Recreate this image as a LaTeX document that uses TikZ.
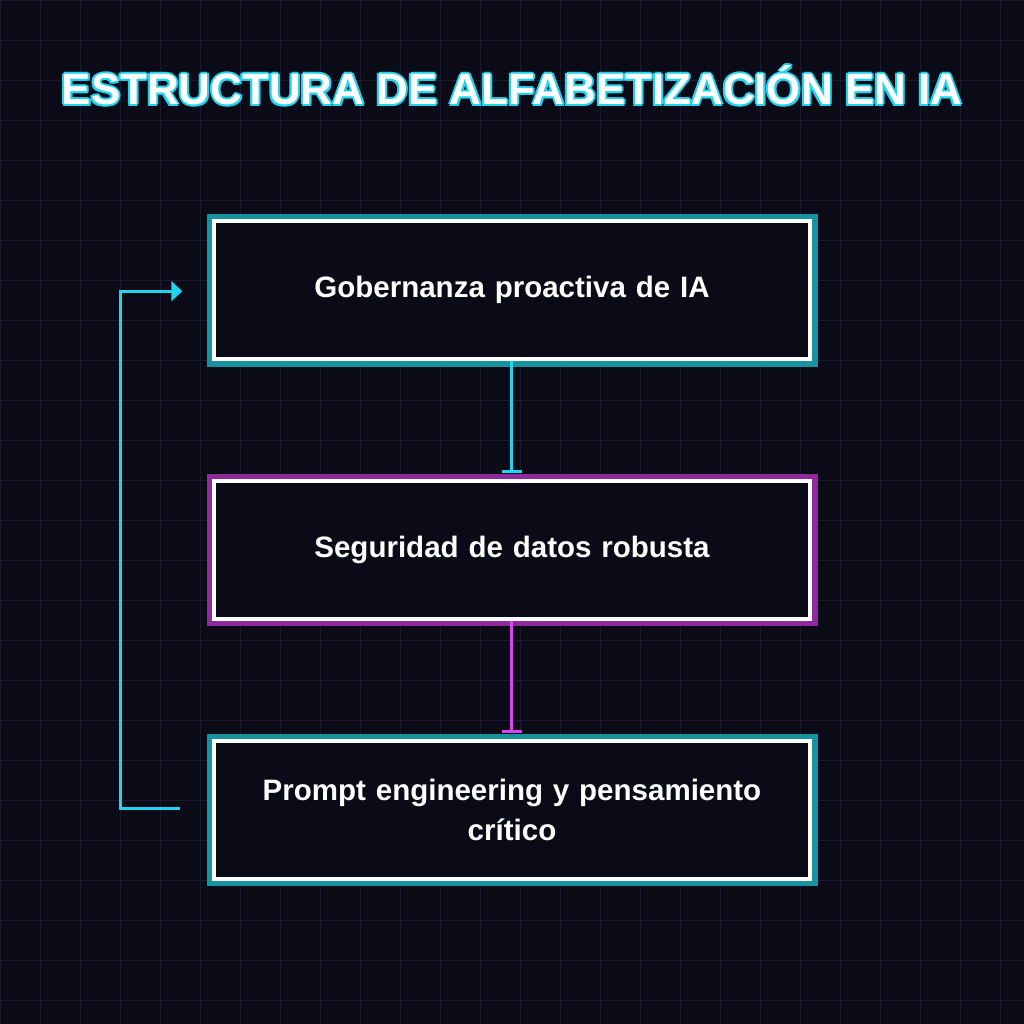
\documentclass[tikz,border=0pt]{standalone}
\usepackage{fontspec}
\setmainfont{Liberation Sans}
\usetikzlibrary{positioning,arrows.meta,calc}
\definecolor{bg}{HTML}{0B0B18}
\definecolor{gridc}{HTML}{1A1A2E}
\definecolor{neoncyan}{HTML}{22D3EE}
\definecolor{tealglow}{HTML}{16939F}
\definecolor{neonpink}{HTML}{D946EF}
\definecolor{pinkglow}{HTML}{8E2A9C}
\tikzset{
  stage/.style={draw=white,line width=0.04cm,minimum width=5.97cm,minimum height=1.38cm,
    text width=5.7cm,align=center,font=\bfseries\fontsize{8.4pt}{11.5pt}\selectfont,text=white,fill=bg},
  glowc/.style={draw=tealglow,line width=0.06cm},
  glowp/.style={draw=pinkglow,line width=0.06cm},
  flow/.style={line width=0.03cm,-{Bar[width=0.2cm,line width=0.03cm]}},
}
\begin{document}
\begin{tikzpicture}[x=0.01cm,y=-0.01cm]
\fill[bg] (0,0) rectangle (1024,1024);
\draw[gridc,line width=0.008cm] (0,0) grid[step=0.4cm] (1024,1024);
% title
\foreach \dx/\dy in {-2/0,2/0,0/-2,0/2,-1.5/-1.5,1.5/1.5,-1.5/1.5,1.5/-1.5}
  \node[text=neoncyan,font=\bfseries\fontsize{12.5pt}{16pt}\selectfont] at (512+\dx,85+\dy) {ESTRUCTURA DE ALFABETIZACIÓN EN IA};
\node (title) [text=white,font=\bfseries\fontsize{12.5pt}{16pt}\selectfont] at (512,85) {ESTRUCTURA DE ALFABETIZACIÓN EN IA};
% boxes
\draw[glowc] (210,217) rectangle (815,364);
\node (gov) [stage] at (512,290) {Gobernanza proactiva de IA};
\draw[glowp] (210,477) rectangle (815,623);
\node (sec) [stage] at (512,550) {Seguridad de datos robusta};
\draw[glowc] (210,737) rectangle (815,883);
\node (prompt) [stage] at (512,810) {Prompt engineering y pensamiento\\crítico};
% links
\draw[flow,neoncyan] (gov.south) -- ($(sec.north)+(0,-6)$);
\draw[flow,neonpink] (sec.south) -- ($(prompt.north)+(0,-6)$);
\coordinate (loopa) at (180,809);
\coordinate (loopb) at (182,291);
\draw[neoncyan,line width=0.03cm,-{Triangle[length=0.11cm,width=0.2cm]}] (loopa) -- (120,809) -- (120,291) -- (loopb);
\end{tikzpicture}
\end{document}
